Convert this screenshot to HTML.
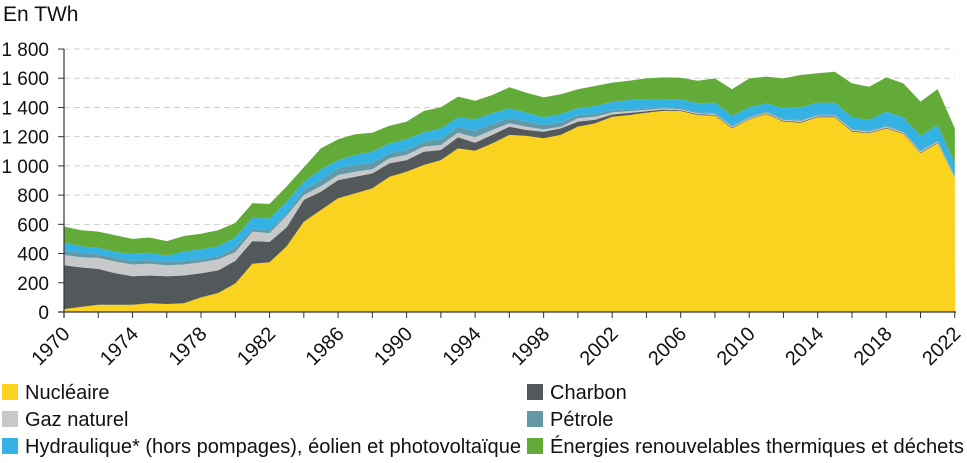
<!DOCTYPE html>
<html><head><meta charset="utf-8"><style>
body{margin:0;background:#fff;}
svg{display:block;font-family:"Liberation Sans",sans-serif;}
</style></head><body>
<svg id="s" width="967" height="463" viewBox="0 0 967 463"></svg>
<script>
const N=[20,35,50,50,50,60,55,60,100,130,195,330,340,450,618,698,778,812,846,926,960,1006,1040,1120,1104,1154,1212,1205,1189,1212,1269,1291,1337,1348,1364,1378,1376,1348,1344,1257,1318,1355,1303,1296,1333,1333,1235,1223,1257,1219,1087,1155,915];
const Cc=[320,305,295,265,245,250,245,250,265,285,350,485,480,580,767,824,903,926,949,1018,1040,1097,1109,1196,1159,1212,1268,1246,1234,1257,1303,1316,1352,1363,1374,1386];
const Gc=[390,375,370,345,325,330,320,325,340,360,410,550,540,660,801,862,938,960,977,1052,1075,1132,1143,1227,1196,1246,1292,1268,1250,1268,1326,1336,1366,1375,1384,1394];
const Pc=[420,405,395,370,350,355,340,350,360,380,440,570,560,675,835,903,983,1006,1022,1086,1109,1166,1182,1268,1241,1287,1326,1303,1280,1298,1348,1355,1380,1388,1394,1402];
const H=[475,450,440,410,400,405,385,415,430,450,510,645,640,755,892,976,1040,1075,1097,1154,1182,1230,1257,1332,1319,1360,1394,1364,1333,1355,1394,1410,1439,1451,1458,1458,1456,1428,1433,1342,1401,1428,1394,1401,1433,1433,1333,1314,1371,1333,1205,1280,1017];
const T=[585,560,550,525,500,510,485,520,535,560,610,745,740,860,990,1120,1182,1216,1227,1275,1303,1376,1401,1474,1446,1485,1538,1501,1469,1490,1524,1547,1570,1583,1599,1606,1604,1583,1599,1524,1599,1611,1599,1622,1634,1645,1565,1542,1606,1565,1440,1526,1257];
const C=[],G=[],P=[];
for(let i=0;i<53;i++){
 if(i<Cc.length){C.push(Cc[i]);G.push(Gc[i]);P.push(Pc[i]);}
 else{C.push(N[i]+5);G.push(N[i]+12);P.push(N[i]+18);}
}
const X=i=>64+i*17.13, Y=v=>312-v*0.1461;
let s='';
for(let v=200;v<=1800;v+=200)s+=`<line x1="64" x2="955" y1="${Y(v)}" y2="${Y(v)}" stroke="#d0d0d0" stroke-dasharray="6,4"/>`;
function area(top,bot,col){
 let d='M'+top.map((v,i)=>X(i).toFixed(1)+','+Y(v).toFixed(1)).join('L');
 if(bot){for(let i=52;i>=0;i--)d+='L'+X(i).toFixed(1)+','+Y(bot[i]).toFixed(1);}
 else d+='L955,312L64,312';
 return `<path d="${d}Z" fill="${col}"/>`;
}
s+=area(N,null,'#F9D31F');
s+=area(C,N,'#53585A');
s+=area(G,C,'#C7C8CA');
s+=area(P,G,'#6399A6');
s+=area(H,P,'#34B2E4');
s+=area(T,H,'#63AB38');
s+=`<line x1="64" x2="64" y1="${Y(1800)}" y2="318" stroke="#333" stroke-width="1.2"/><line x1="58" x2="956" y1="312" y2="312" stroke="#333" stroke-width="1.2"/>`;
for(let v=200;v<=1800;v+=200)s+=`<line x1="58" x2="64" y1="${Y(v)}" y2="${Y(v)}" stroke="#333"/>`;
for(let i=0;i<=52;i+=2)s+=`<line x1="${X(i)}" x2="${X(i)}" y1="312" y2="318" stroke="#333"/>`;
for(let v=0;v<=1800;v+=200){let t=v>=1000?(Math.floor(v/1000)+' '+String(v%1000).padStart(3,'0')):v;
 s+=`<text x="49" y="${Y(v)+7}" text-anchor="end" font-size="19" fill="#111">${t}</text>`;}
for(let i=0;i<=52;i+=4){let x=X(i);
 s+=`<text transform="translate(${x+7},${335}) rotate(-45)" text-anchor="end" font-size="20" fill="#111">${1970+i}</text>`;}
s+=`<text x="3" y="21" font-size="21" fill="#111">En TWh</text>`;
const L=[[2,392,'#F9D31F','Nucléaire'],[527,392,'#53585A','Charbon'],[2,419,'#C7C8CA','Gaz naturel'],[527,419,'#6399A6','Pétrole'],[2,446,'#34B2E4','Hydraulique* (hors pompages), éolien et photovoltaïque'],[527,446,'#63AB38','Énergies renouvelables thermiques et déchets']];
for(const [x,y,c,t] of L){s+=`<rect x="${x}" y="${y-8}" width="16" height="16" fill="${c}"/><text x="${x+23}" y="${y+7}" font-size="20" fill="#111" textLength="${t.length>50?496:(t.length>40?414:null)}" lengthAdjust="spacingAndGlyphs">${t}</text>`;}
document.getElementById('s').innerHTML=s.replace(/ textLength="null"/g,'');
</script>
</body></html>
